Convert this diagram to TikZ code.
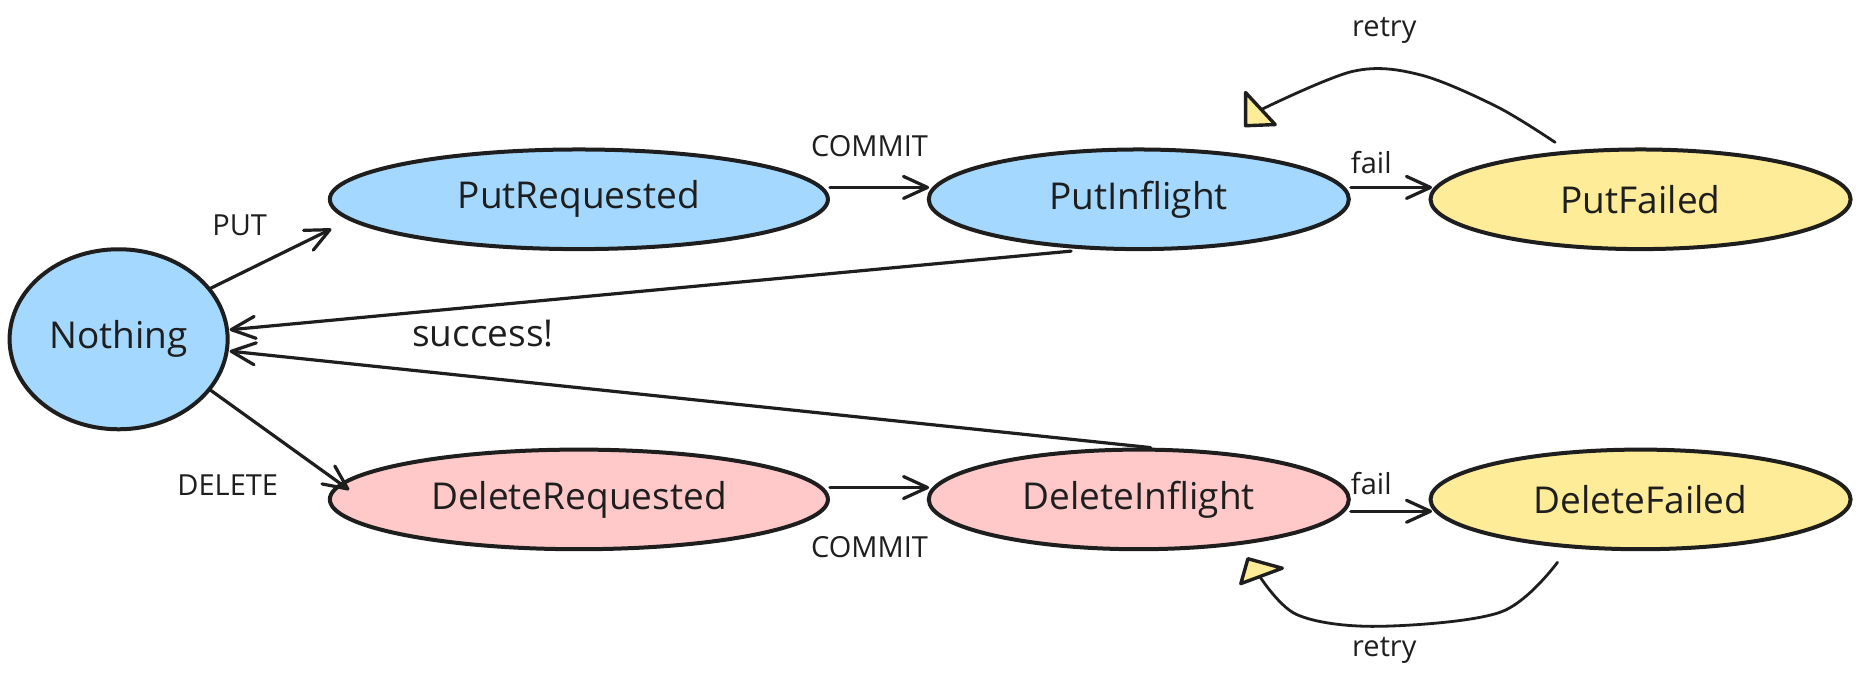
\documentclass[tikz,border=0pt]{standalone}
\usepackage{fontspec}
\setmainfont{Open Sans}
\usetikzlibrary{arrows.meta,shapes.geometric}
\definecolor{ink}{HTML}{1E1E1E}
\definecolor{bluef}{HTML}{A5D8FF}
\definecolor{redf}{HTML}{FFC9C9}
\definecolor{yelf}{HTML}{FFEC99}
\begin{document}
\begin{tikzpicture}[x=0.593pt,y=-0.593pt,
  state/.style={ellipse,draw=ink,line width=2pt,inner sep=0pt,font=\fontsize{18.5}{22}\selectfont,text=ink},
  wide/.style={state,minimum width=249pt,minimum height=49.8pt},
  mid/.style={state,minimum width=210pt,minimum height=49.8pt},
  conn/.style={draw=ink,line width=1.6pt,line cap=round,-{Straight Barb[length=12pt,width=11pt,round]}},
  lbl/.style={font=\fontsize{14.5}{17}\selectfont,text=ink,inner sep=0pt},
  biglbl/.style={font=\fontsize{18.5}{22}\selectfont,text=ink,inner sep=0pt},
  tipfill/.style={draw=ink,fill=yelf,line width=1.7pt,line join=round},
  loopline/.style={draw=ink,line width=1.4pt,line cap=round}]
\fill[white] (0,0) rectangle (1568,569);
\useasboundingbox (0,0) rectangle (1568,569);

% states
\node[state,fill=bluef,minimum width=109pt,minimum height=90pt] (nothing) at (100,286) {Nothing};
\node[wide,fill=bluef] (putreq) at (488,168) {PutRequested};
\node[mid,fill=bluef] (putinf) at (960,168) {PutInflight};
\node[mid,fill=yelf] (putfail) at (1383,168) {PutFailed};
\node[wide,fill=redf] (delreq) at (488,421) {DeleteRequested};
\node[mid,fill=redf] (delinf) at (960,421) {DeleteInflight};
\node[mid,fill=yelf] (delfail) at (1383,421) {DeleteFailed};

% connectors
\draw[conn] (nothing.29) -- ([shift={(3,25)}]putreq.west);
\draw[conn] (nothing.-29) -- ([shift={(18,-8)}]delreq.west);
\draw[conn] ([shift={(0,-10)}]putreq.east) -- ([shift={(2,-10)}]putinf.west);
\draw[conn] ([shift={(0,-10)}]putinf.east) -- ([shift={(3,-10)}]putfail.west);
\draw[conn] ([shift={(0,-10)}]delreq.east) -- ([shift={(2,-10)}]delinf.west);
\draw[conn] ([shift={(0,10)}]delinf.east) -- ([shift={(3,10)}]delfail.west);
\draw[conn] ([shift={(-57,0)}]putinf.south) -- ([shift={(0,-8)}]nothing.east);
\draw[conn] ([shift={(10,0)}]delinf.north) -- ([shift={(0,10)}]nothing.east);

% retry loops
\coordinate (rtS) at (1311,120);
\coordinate (rtE) at (1064,92);
\draw[loopline] plot[smooth,tension=0.55] coordinates {(rtS) (1262,90) (1197,63) (1141,60) (rtE)};
\draw[tipfill] (1050,78) -- (1050,106) -- (1075,105) -- cycle;
\coordinate (rbS) at (1313,474);
\coordinate (rbE) at (1060,483);
\draw[loopline] plot[smooth,tension=0.55] coordinates {(rbS) (1265,516) (1161,528) (1093,518) (rbE)};
\draw[tipfill] (1046,492) -- (1052,471) -- (1081,479) -- cycle;

% labels
\node[lbl] (lput) at (202,190) {PUT};
\node[lbl] (ldel) at (192,409) {DELETE};
\node[lbl] (lc1) at (733,123) {COMMIT};
\node[lbl] (lc2) at (733,461) {COMMIT};
\node[lbl] (lf1) at (1156,137) {fail};
\node[lbl] (lf2) at (1156,408) {fail};
\node[biglbl] (lsucc) at (407,281) {success!};
\node[lbl] (lr1) at (1167,26) {retry};
\node[lbl] (lr2) at (1167,548) {retry};
\end{tikzpicture}
\end{document}
